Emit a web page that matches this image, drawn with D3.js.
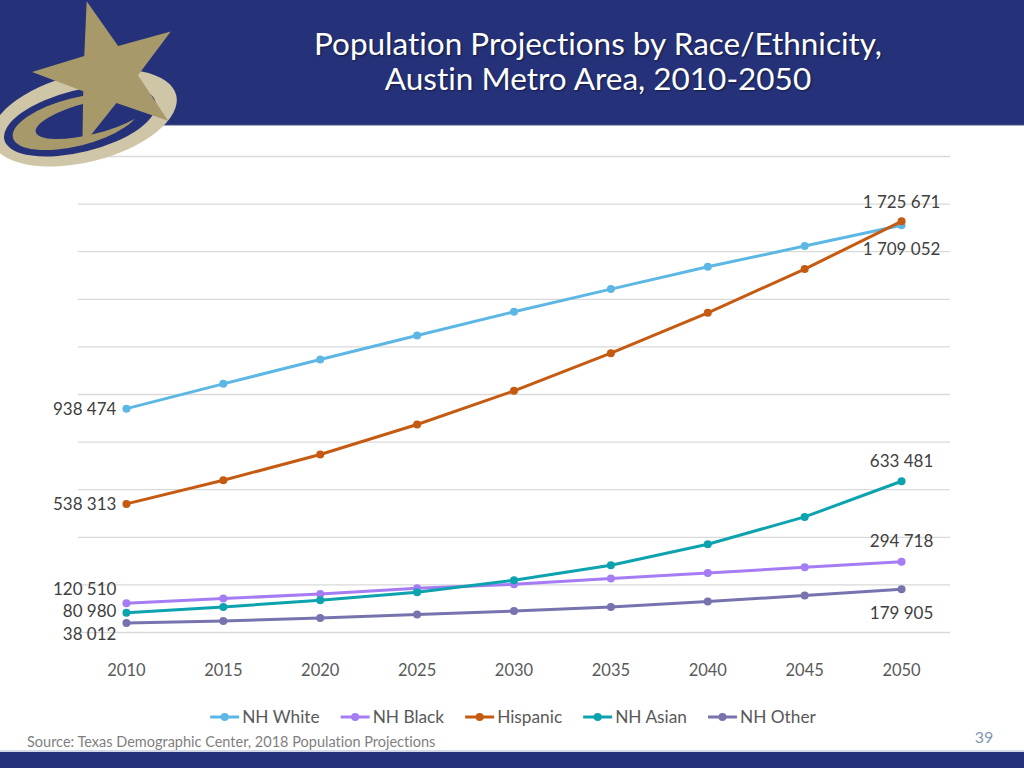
<!DOCTYPE html>
<html>
<head>
<meta charset="utf-8">
<script src="https://cdn.jsdelivr.net/npm/d3@7"></script>
<style>
  html, body { margin: 0; padding: 0; background: #fff; }
  svg { display: block; font-family: Lato, "Open Sans", sans-serif; font-variant-ligatures: none; }
</style>
</head>
<body>
<svg id="chart" width="1024" height="768"></svg>
<script>
// ---------------- DATA ----------------
const years = ["2010", "2015", "2020", "2025", "2030", "2035", "2040", "2045", "2050"];
const seriesNames = ["NH White", "NH Black", "Hispanic", "NH Asian", "NH Other"];
const nhWhite  = [938474, 1042600, 1145200, 1246100, 1345300, 1440700, 1534500, 1621500, 1709052];
const nhBlack  = [120510, 140400, 159800, 183700, 200500, 224500, 248000, 272000, 294718];
const hispanic = [538313, 637700, 745800, 871900, 1013200, 1171700, 1341100, 1524800, 1725671];
const nhAsian  = [80980, 105100, 133300, 166900, 217300, 280400, 368700, 483500, 633481];
const nhOther  = [38012, 46200, 58900, 73100, 88300, 105100, 127800, 153000, 179905];
const yTicks = [0, 200000, 400000, 600000, 800000, 1000000, 1200000, 1400000, 1600000, 1800000, 2000000];
const titleLines = ["Population Projections by Race/Ethnicity,", "Austin Metro Area, 2010-2050"];
const sourceText = "Source: Texas Demographic Center, 2018 Population Projections";
const pageNumber = "39";

// ---------------- STYLE / PLACEMENT ----------------
const colors = { "NH White": "#5DB7E5", "NH Black": "#A67CF5", "Hispanic": "#C55A11", "NH Asian": "#0CA3AE", "NH Other": "#7673AF" };
const valuesBySeries = { "NH White": nhWhite, "NH Black": nhBlack, "Hispanic": hispanic, "NH Asian": nhAsian, "NH Other": nhOther };
// label placement for first and last points (offsets in px)
const firstLabelDy = { "NH White": 0, "NH Black": -14, "Hispanic": 0, "NH Asian": -2, "NH Other": 11 };
const lastLabelDy  = { "NH White": 24, "NH Black": -21, "Hispanic": -19, "NH Asian": -20, "NH Other": 24 };

const navy = "#25327A";
const gold = "#A8996B";
const svg = d3.select("#chart");

// ---------------- HEADER ----------------
svg.append("rect").attr("x", 0).attr("y", 0).attr("width", 1024).attr("height", 125).attr("fill", navy);
svg.append("line").attr("x1", 0).attr("x2", 1024).attr("y1", 125).attr("y2", 125).attr("stroke", "#4a5488").attr("stroke-width", 1);

// bottom band
svg.append("rect").attr("x", 0).attr("y", 752).attr("width", 1024).attr("height", 16).attr("fill", navy);
svg.append("line").attr("x1", 0).attr("x2", 1024).attr("y1", 751).attr("y2", 751).attr("stroke", "#aab0cc").attr("stroke-width", 1);

// ---------------- CHART ----------------
const x = d3.scaleBand().domain(years).range([78, 950]).padding(0);
const y = d3.scaleLinear().domain([0, 2000000]).range([632, 156]);
const xc = d => x(d) + x.bandwidth() / 2;

const g = svg.append("g");

// gridlines via axis
const yAxis = d3.axisLeft(y).tickValues(yTicks).tickSize(-(950 - 78)).tickFormat("");
const ga = g.append("g").attr("transform", "translate(78,0)").call(yAxis);
ga.select(".domain").remove();
ga.selectAll(".tick line").attr("stroke", "#D9D9D9").attr("stroke-width", 1.3);

// x axis labels
const xAxis = d3.axisBottom(x).tickSize(0).tickPadding(0);
const gx = g.append("g").attr("transform", "translate(0,676)").call(xAxis);
gx.select(".domain").remove();
gx.selectAll(".tick text").attr("fill", "#595959").attr("font-size", 16.5).attr("font-family", "Lato, sans-serif").attr("dy", 0);

// logo
const logo = svg.append("g");
logo.append("ellipse").attr("cx", 84).attr("cy", 118).attr("rx", 95).attr("ry", 44)
  .attr("transform", "rotate(-14 84 118)").attr("fill", "#CFC6A8");
logo.append("ellipse").attr("cx", 80).attr("cy", 121).attr("rx", 78).attr("ry", 31)
  .attr("transform", "rotate(-14 80 121)").attr("fill", navy);
logo.append("ellipse").attr("cx", 76).attr("cy", 122).attr("rx", 65).attr("ry", 24)
  .attr("transform", "rotate(-14 76 122)").attr("fill", gold);
logo.append("ellipse").attr("cx", 92).attr("cy", 118).attr("rx", 58).attr("ry", 16)
  .attr("transform", "rotate(-14 92 118)").attr("fill", navy);
// star
const starPts = [];
for (let i = 0; i < 10; i++) {
  const ang = (-106.3 + i * 36) * Math.PI / 180;
  const r = i % 2 === 0 ? 76 : 30;
  starPts.push([108 + r * Math.cos(ang), 74.3 + r * Math.sin(ang)]);
}
logo.append("polygon").attr("points", starPts.map(p => p.join(",")).join(" ")).attr("fill", gold);

// title
const title = svg.append("text").attr("text-anchor", "middle").attr("fill", "#fff")
  .attr("font-size", 31.5).attr("font-family", "Lato, sans-serif")
  .style("text-shadow", "1px 1px 2px rgba(0,0,0,0.5)");
title.selectAll("tspan").data(titleLines).join("tspan")
  .attr("x", 598).attr("y", (d, i) => 55 + i * 35).text(d => d);

// lines
const line = d3.line().x((d, i) => xc(years[i])).y(d => y(d));
seriesNames.forEach(name => {
  const vals = valuesBySeries[name];
  g.append("path").datum(vals).attr("d", line).attr("fill", "none")
    .attr("stroke", colors[name]).attr("stroke-width", 3).attr("stroke-linejoin", "round");
  g.selectAll(null).data(vals).join("circle")
    .attr("cx", (d, i) => xc(years[i])).attr("cy", d => y(d)).attr("r", 4)
    .attr("fill", colors[name]);
});

// data labels
const fmt = v => d3.format(",")(v).replace(/,/g, " ");
seriesNames.forEach(name => {
  const vals = valuesBySeries[name];
  g.append("text").attr("x", xc(years[0]) - 10).attr("y", y(vals[0]) + firstLabelDy[name])
    .attr("dy", "0.35em").attr("text-anchor", "end").attr("font-size", 17)
    .attr("fill", "#404040").text(fmt(vals[0]));
  const last = vals.length - 1;
  g.append("text").attr("x", xc(years[last])).attr("y", y(vals[last]) + lastLabelDy[name])
    .attr("dy", "0.35em").attr("text-anchor", "middle").attr("font-size", 17)
    .attr("fill", "#404040").text(fmt(vals[last]));
});

// legend
const legend = svg.append("g");
let lx = 0;
seriesNames.forEach(name => {
  const it = legend.append("g");
  it.append("line").attr("x1", 0).attr("x2", 29).attr("y1", 0).attr("y2", 0)
    .attr("stroke", colors[name]).attr("stroke-width", 3);
  it.append("circle").attr("cx", 14.5).attr("cy", 0).attr("r", 4).attr("fill", colors[name]);
  const t = it.append("text").attr("x", 32).attr("dy", "0.35em").attr("font-size", 17.3)
    .attr("fill", "#595959").text(name);
  const w = 32 + t.node().getComputedTextLength();
  it.attr("transform", `translate(${lx},717)`);
  lx += w + 21;
});
const totalW = lx - 21;
legend.attr("transform", `translate(${513 - totalW / 2},0)`);

// footer
svg.append("text").attr("x", 27).attr("y", 742).attr("dy", "0.35em").attr("font-size", 14.5)
  .attr("fill", "#7F7F7F").text(sourceText);
svg.append("text").attr("x", 984).attr("y", 737).attr("dy", "0.35em").attr("text-anchor", "middle")
  .attr("font-size", 16).attr("fill", "#8497B0").text(pageNumber);
</script>
</body>
</html>
